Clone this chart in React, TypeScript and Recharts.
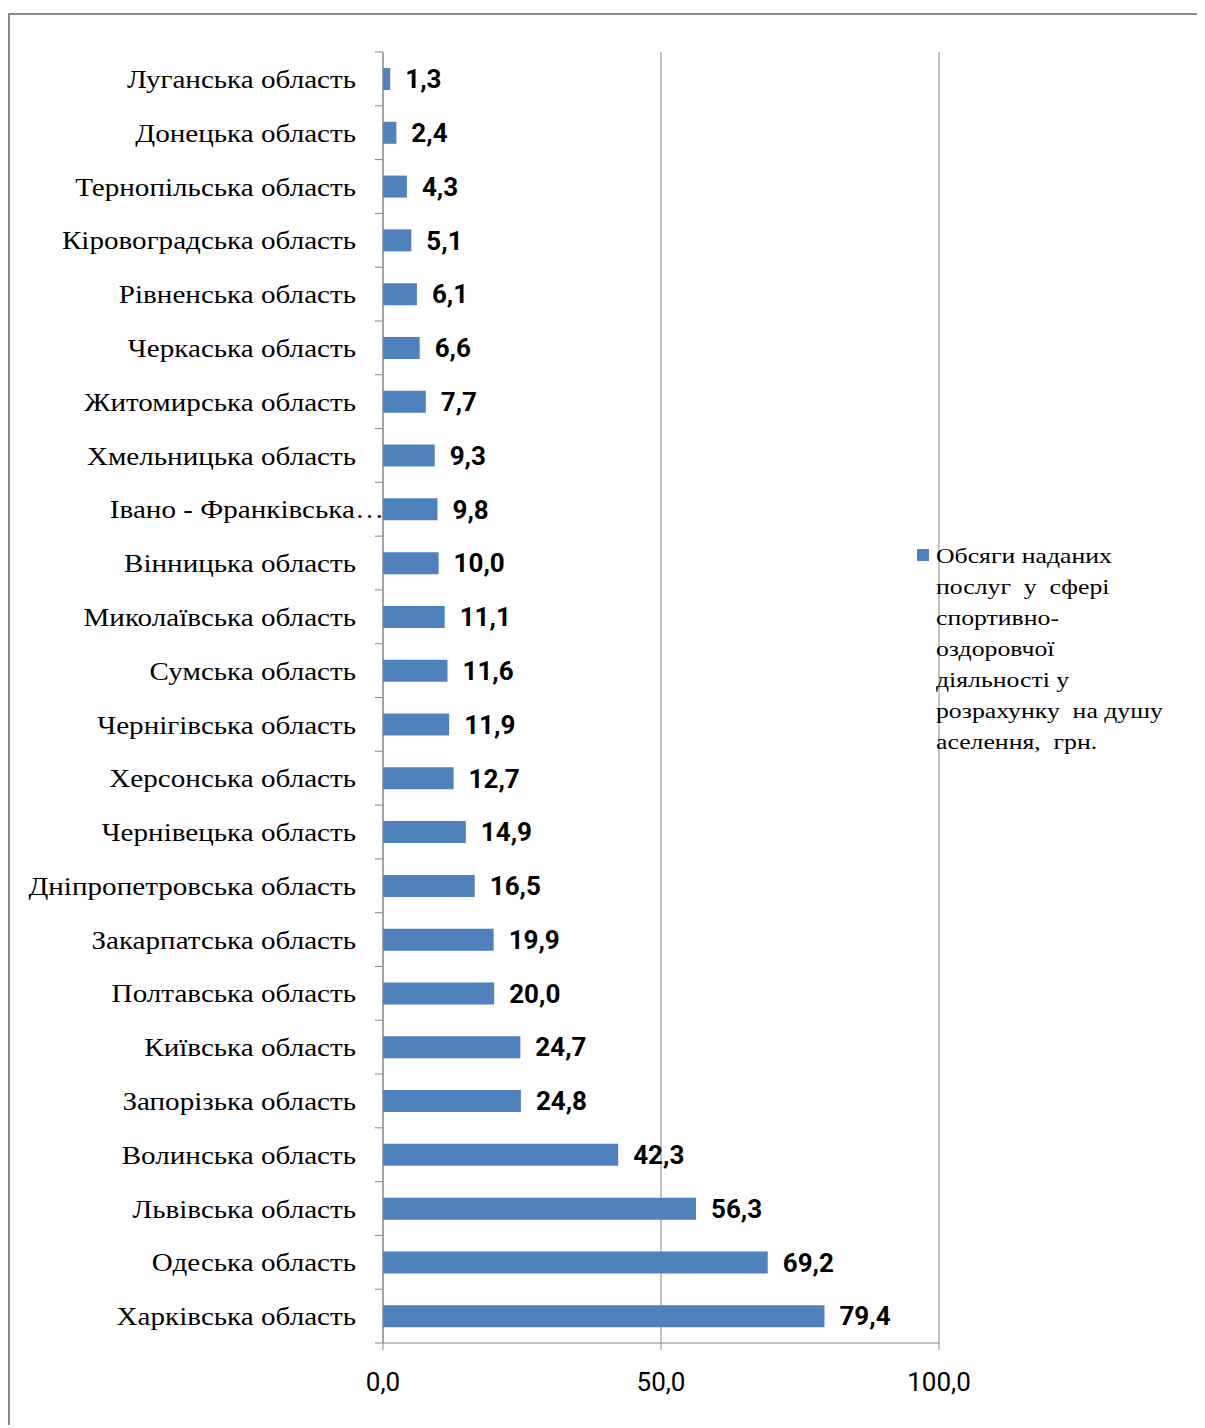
import React from 'react';
import { BarChart, Bar, XAxis, YAxis, CartesianGrid, LabelList, Legend } from 'recharts';

const regions: string[] = [
  'Луганська область',
  'Донецька область',
  'Тернопільська область',
  'Кіровоградська область',
  'Рівненська область',
  'Черкаська область',
  'Житомирська область',
  'Хмельницька область',
  'Івано - Франківська…',
  'Вінницька область',
  'Миколаївська область',
  'Сумська область',
  'Чернігівська область',
  'Херсонська область',
  'Чернівецька область',
  'Дніпропетровська область',
  'Закарпатська область',
  'Полтавська область',
  'Київська область',
  'Запорізька область',
  'Волинська область',
  'Львівська область',
  'Одеська область',
  'Харківська область',
];

const values: number[] = [
  1.3, 2.4, 4.3, 5.1, 6.1, 6.6, 7.7, 9.3, 9.8, 10.0, 11.1, 11.6, 11.9, 12.7,
  14.9, 16.5, 19.9, 20.0, 24.7, 24.8, 42.3, 56.3, 69.2, 79.4,
];

const xTicks: number[] = [0, 50, 100];

const seriesName =
  'Обсяги наданих послуг у сфері спортивно-оздоровчої діяльності у розрахунку  на душу аселення, грн.';
const legendLines: string[] = [
  'Обсяги наданих',
  'послуг  у  сфері',
  'спортивно-',
  'оздоровчої',
  'діяльності у',
  'розрахунку  на душу',
  'аселення,  грн.',
];

const data = regions.map((name, i) => ({ name, value: values[i] }));

const CHART_W = 1195;
const CHART_H = 1400;
const MARGIN = { top: 37, right: 266, bottom: 22, left: 0 };
const X_AXIS_H = 50;
const Y_AXIS_W = 373;
const PLOT_H = CHART_H - MARGIN.top - MARGIN.bottom - X_AXIS_H;
const STEP = PLOT_H / regions.length;
const TICK_SIZE = 8;
const TICK_MARGIN = 19;
const BAR_COLOR = '#4F81BD';
const GRID_COLOR = '#868686';
const SERIF = "'Liberation Serif', 'Times New Roman', serif";

const fmt = (v: number) => v.toFixed(1).replace('.', ',');

function CategoryTick(props: any) {
  const { x, y, payload, index } = props;
  const axisX = x + TICK_SIZE + TICK_MARGIN;
  const last = index === regions.length - 1;
  const truncated = String(payload.value).endsWith('…');
  const tx = truncated ? axisX + 1 : x;
  return (
    <g>
      <line x1={axisX - TICK_SIZE} x2={axisX} y1={y - STEP / 2} y2={y - STEP / 2} stroke={GRID_COLOR} strokeWidth={1} />
      {last && (
        <line x1={axisX - TICK_SIZE} x2={axisX} y1={y + STEP / 2} y2={y + STEP / 2} stroke={GRID_COLOR} strokeWidth={1} />
      )}
      <text
        transform={`translate(${tx},${y}) scale(1.12,1)`}
        x={0}
        y={0}
        dy="0.35em"
        textAnchor="end"
        fill="#000"
        fontFamily={SERIF}
        fontSize={26}
      >
        {payload.value}
      </text>
    </g>
  );
}

function LegendContent() {
  return (
    <div style={{ position: 'relative', fontFamily: SERIF, fontSize: 22, lineHeight: '31px', color: '#000', whiteSpace: 'pre' }}>
      <div style={{ position: 'absolute', left: 0, top: 9, width: 12, height: 12, background: BAR_COLOR }} />
      <div style={{ marginLeft: 19, transform: 'scaleX(1.17)', transformOrigin: 'left top' }} title={seriesName}>
        {legendLines.map((l, i) => (
          <div key={i}>{l}</div>
        ))}
      </div>
    </div>
  );
}

export default function App() {
  return (
    <div>
      <style>{`html,body{overflow:hidden}`}</style>
      <div
        style={{
          marginTop: 5,
          width: 1260,
          height: 1410,
          borderTop: '2px solid #8a8a8a',
          borderLeft: '2px solid #8a8a8a',
          background: '#fff',
        }}
      >
        <BarChart
          width={CHART_W}
          height={CHART_H}
          data={data}
          layout="vertical"
          margin={MARGIN}
          barSize={22}
        >
          <CartesianGrid horizontal={false} vertical={true} stroke={GRID_COLOR} strokeWidth={1} />
          <XAxis
            type="number"
            domain={[0, 100]}
            ticks={xTicks}
            tickFormatter={fmt}
            height={X_AXIS_H}
            axisLine={{ stroke: GRID_COLOR }}
            tickLine={{ stroke: GRID_COLOR }}
            tickSize={7}
            tickMargin={23}
            tick={{ fill: '#000', fontSize: 26, fontFamily: "Roboto, 'Open Sans', sans-serif" }}
          />
          <YAxis
            type="category"
            dataKey="name"
            width={Y_AXIS_W}
            axisLine={{ stroke: GRID_COLOR }}
            tickLine={false}
            tickSize={TICK_SIZE}
            tickMargin={TICK_MARGIN}
            interval={0}
            tick={<CategoryTick />}
          />
          <Legend
            layout="horizontal"
            verticalAlign="middle"
            align="center"
            wrapperStyle={{ left: 907, top: 525, width: 280 }}
            content={<LegendContent />}
          />
          <Bar dataKey="value" name={seriesName} fill={BAR_COLOR} isAnimationActive={false}>
            <LabelList
              dataKey="value"
              position="right"
              offset={15}
              formatter={(v: any) => fmt(Number(v))}
              fill="#000"
              fontSize={26}
              fontWeight="bold"
              fontFamily="Roboto, 'Open Sans', sans-serif"
            />
          </Bar>
        </BarChart>
      </div>
    </div>
  );
}
